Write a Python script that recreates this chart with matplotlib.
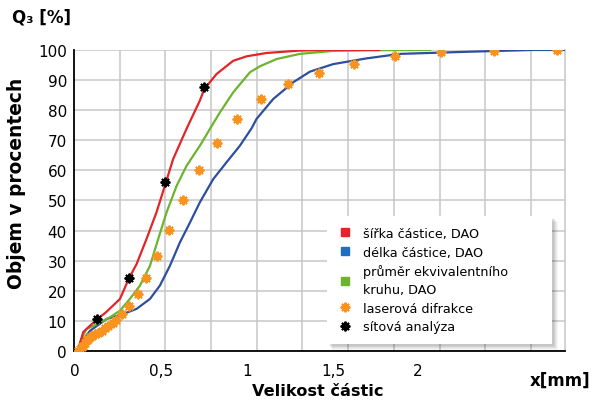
import matplotlib.pyplot as plt
from matplotlib.lines import Line2D
from matplotlib.patches import Rectangle
import numpy as np

# šířka částice, DAO
red_x = [0.02, 0.03, 0.051, 0.088, 0.129, 0.178, 0.252, 0.30, 0.343, 0.397, 0.452, 0.503,
         0.543, 0.616, 0.689, 0.713, 0.78, 0.871, 0.945, 1.054, 1.236, 1.418, 1.67]
red_y = [0, 1.8, 6.3, 8.4, 10.6, 13, 17.3, 24, 28.9, 37.2, 46.1, 56,
         63.8, 73.8, 83.2, 87, 92, 96.4, 97.9, 99, 99.8, 100, 100]

# délka částice, DAO
blue_x = [0.02, 0.04, 0.088, 0.178, 0.27, 0.343, 0.416, 0.47, 0.525, 0.58, 0.635, 0.689, 0.762,
          0.835, 0.908, 0.972, 0.999, 1.09, 1.2, 1.291, 1.418, 1.6, 1.783, 2.148, 2.513, 2.686]
blue_y = [0, 3, 6.7, 10.6, 12.3, 14, 17.3, 21.7, 28.3, 36.1, 42.7, 49.4, 57.1,
          62.7, 68.2, 74, 77.1, 83.7, 89.3, 92.8, 95.3, 97.2, 98.7, 99.4, 100, 100]

# průměr ekvivalentního kruhu, DAO
green_x = [0.02, 0.04, 0.069, 0.129, 0.197, 0.252, 0.306, 0.361, 0.416, 0.461, 0.507, 0.562,
           0.616, 0.689, 0.717, 0.744, 0.799, 0.871, 0.963, 1.018, 1.109, 1.236, 1.418, 1.6, 1.948]
green_y = [0, 4, 7.3, 9, 11.2, 13.4, 17.3, 21.7, 28.3, 37.2, 46.1, 54.9,
           61.5, 68.2, 71, 73.8, 79.3, 85.9, 92.6, 94.6, 97, 98.7, 99.7, 99.9, 100]

# laserová difrakce
laser_x = [0.024, 0.035, 0.045, 0.051, 0.06, 0.07, 0.078, 0.09, 0.1, 0.115, 0.13, 0.151, 0.17,
           0.188, 0.215, 0.232, 0.263, 0.301, 0.348, 0.396, 0.452, 0.521, 0.594, 0.684, 0.782,
           0.892, 1.021, 1.169, 1.34, 1.533, 1.756, 2.01, 2.30, 2.64]
laser_y = [0.1, 0.8, 1.4, 1.8, 2.8, 3.6, 4.0, 4.6, 5.0, 5.6, 6.1, 6.7, 7.5,
           8.4, 9.4, 10.2, 12.3, 15.0, 18.8, 24.4, 31.6, 40.3, 50.2, 60.0, 69.1,
           77.1, 83.6, 88.6, 92.4, 95.5, 97.9, 99.2, 99.7, 100]

# sítová analýza
sieve_x = [0.125, 0.3, 0.5, 0.71]
sieve_y = [10.6, 24.3, 56.0, 87.6]

# labels as placed in the original (text boxes, not on the grid)
xlabel_pos = [0.005, 0.476, 0.946, 1.417, 1.882]
xlabel_txt = ["0", "0,5", "1", "1,5", "2"]

RED = "#e42528"
BLUE = "#2d4f9e"
GREEN = "#6cb42e"
ORANGE = "#f7931e"

fig = plt.figure(figsize=(5.96, 4.02), dpi=100)
ax = fig.add_axes([0.124, 0.1244, 0.824, 0.7488])

ax.plot(blue_x, blue_y, color=BLUE, lw=1.6, zorder=3)
ax.plot(green_x, green_y, color=GREEN, lw=1.6, zorder=3)
ax.plot(red_x, red_y, color=RED, lw=1.6, zorder=3)
ax.plot(laser_x, laser_y, ls="none", marker=(8, 2, 0), ms=7, mew=1.4, color=ORANGE, zorder=4)
ax.plot(sieve_x, sieve_y, ls="none", marker=(8, 2, 0), ms=7, mew=1.4, color="black", zorder=5)

ax.set_xlim(0, 2.686)
ax.set_ylim(0, 100)
ax.set_yticks(np.arange(0, 101, 10))
ax.set_xticks(np.arange(0.25, 2.6, 0.25), minor=True)
ax.set_xticks(xlabel_pos)
ax.set_xticklabels(xlabel_txt)
ax.grid(True, which="minor", axis="x", color="#c8c8c8", lw=1.1)
ax.grid(True, which="major", axis="y", color="#c8c8c8", lw=1.1)
ax.set_axisbelow(True)
ax.tick_params(axis="both", which="both", length=0, labelsize=11)
ax.tick_params(axis="x", pad=9)
ax.tick_params(axis="y", pad=5)

ax.spines["top"].set_visible(False)
ax.spines["right"].set_color("#c8c8c8")
ax.spines["right"].set_linewidth(1.1)
ax.spines["left"].set_linewidth(1.3)
ax.spines["bottom"].set_linewidth(1.3)

fig.text(0.533, 0.025, "Velikost částic", ha="center", va="center", fontsize=11.6, fontweight="bold")
fig.text(0.940, 0.052, "x[mm]", ha="center", va="center", fontsize=12, fontweight="bold")
fig.text(0.020, 0.957, "Q₃ [%]", ha="left", va="center", fontsize=12, fontweight="bold")
fig.text(0.028, 0.545, "Objem v procentech", ha="center", va="center", rotation=90,
         fontsize=13.4, fontweight="bold")

# legend box with a soft shadow, like the original
bx0, by0, bx1, by1 = 0.515, 0.023, 0.9735, 0.4485
for i in range(6):
    off = 0.004 + i * 0.0015
    ax.add_patch(Rectangle((bx0 + off, by0 - off * 1.6), bx1 - bx0, by1 - by0,
                           transform=ax.transAxes, facecolor="#000000", alpha=0.04,
                           edgecolor="none", zorder=6, clip_on=False))
ax.add_patch(Rectangle((bx0, by0), bx1 - bx0, by1 - by0, transform=ax.transAxes,
                       facecolor="white", edgecolor="none", zorder=7, clip_on=False))

handles = [
    Line2D([], [], ls="none", marker="s", ms=6, color=RED),
    Line2D([], [], ls="none", marker="s", ms=6, color="#1f6fc1"),
    Line2D([], [], ls="none", marker="s", ms=6, color=GREEN),
    Line2D([], [], ls="none", marker=(8, 2, 0), ms=7, mew=1.4, color=ORANGE),
    Line2D([], [], ls="none", marker=(8, 2, 0), ms=7, mew=1.4, color="black"),
]
labels = ["šířka částice, DAO", "délka částice, DAO", "průměr ekvivalentního\nkruhu, DAO",
          "laserová difrakce", "sítová analýza"]
leg = ax.legend(handles, labels, loc="upper left", bbox_to_anchor=(0.539, 0.412),
                fontsize=9.2, frameon=False, handlelength=1.0, handletextpad=0.9,
                labelspacing=0.44, borderpad=0, borderaxespad=0)
leg.get_texts()[2].set_linespacing(1.5)
leg.set_zorder(8)

fig.savefig("out.png", dpi=100)
